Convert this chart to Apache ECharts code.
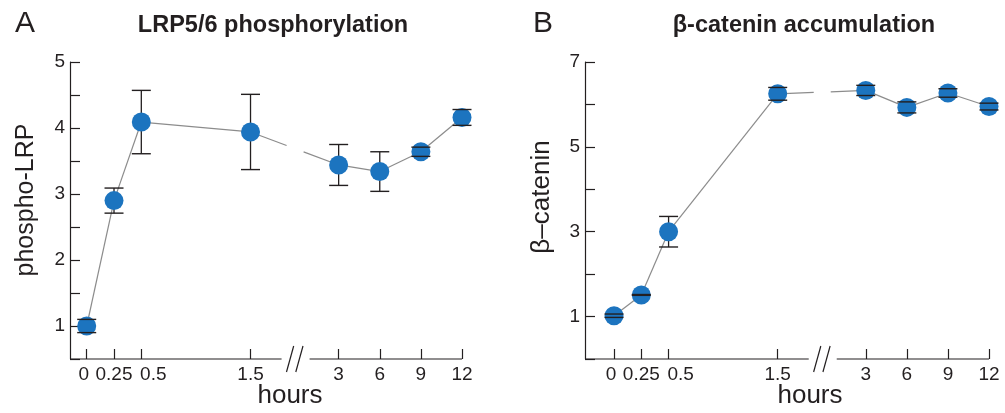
<!DOCTYPE html>
<html><head><meta charset="utf-8">
<script src="https://cdn.jsdelivr.net/npm/echarts@6/dist/echarts.min.js"></script>
<style>html,body{margin:0;padding:0;background:#fff}#c{width:1005px;height:413px}</style>
</head><body><div id="c"></div>
<script>
// ---- data ----
const hourLabels = ['0', '0.25', '0.5', '1.5', '3', '6', '9', '12'];
const hours = [0, 0.25, 0.5, 1.5, 3, 6, 9, 12];
const lrpMean = [1.00, 2.90, 4.09, 3.94, 3.44, 3.34, 3.64, 4.16];
const lrpErr  = [0.10, 0.19, 0.48, 0.57, 0.31, 0.30, 0.07, 0.12];
const catMean = [1.02, 1.51, 3.00, 6.25, 6.33, 5.93, 6.27, 5.95];
const catErr  = [0.04, 0.01, 0.36, 0.15, 0.12, 0.13, 0.10, 0.08];
const lrpYLabels = [1, 2, 3, 4, 5];
const catYLabels = [1, 3, 5, 7];

// ---- broken time axis: linear to 1.5 h, compressed after the break ----
const SEG2_START = 2.307, SEG2_SCALE = 0.1255;
function pos(h) { return h <= 1.5 ? h : SEG2_START + (h - 3) * SEG2_SCALE; }
const xTickPos = hours.map(pos);
const X_MAX = pos(12);
const BREAK_X = (pos(1.5) + pos(3)) / 2;

const INK = '#231f20';
const BLUE = '#1c74bf';
const FONT = '"Liberation Sans", Arial, Helvetica, sans-serif';

const panels = [
  { xMin: -0.153, yMin: 0.5, yMax: 5, yInt: 0.5, yLabels: lrpYLabels, mean: lrpMean, err: lrpErr,
    grid: { left: 70, top: 62, width: 392, height: 297 } },
  { xMin: -0.266, yMin: 0, yMax: 7, yInt: 1, yLabels: catYLabels, mean: catMean, err: catErr,
    grid: { left: 585, top: 62, width: 404, height: 297 } }
];

const grids = [], xAxes = [], yAxes = [], series = [];

panels.forEach((p, gi) => {
  grids.push(p.grid);
  xAxes.push({
    gridIndex: gi, type: 'value', min: p.xMin, max: X_MAX,
    axisLine: { show: false, onZero: false }, splitLine: { show: false },
    axisTick: { show: true, inside: true, length: 10, customValues: xTickPos,
      lineStyle: { color: INK, width: 1.2 } },
    axisLabel: { customValues: xTickPos, margin: 6, fontSize: 19, color: INK, fontFamily: FONT,
      rich: { sh: { fontSize: 19, color: INK, fontFamily: FONT, padding: [0, 0, 0, 24] },
              sl: { fontSize: 19, color: INK, fontFamily: FONT, padding: [0, 6, 0, 0] } },
      formatter: v => {
        const i = xTickPos.findIndex(q => Math.abs(q - v) < 1e-6);
        if (i < 0) return '';
        if (hourLabels[i] === '0.5') return '{sh|' + hourLabels[i] + '}';
        if (hourLabels[i] === '0') return '{sl|' + hourLabels[i] + '}';
        return hourLabels[i];
      } }
  });
  yAxes.push({
    gridIndex: gi, type: 'value', min: p.yMin, max: p.yMax, interval: p.yInt,
    axisLine: { show: true, onZero: false, lineStyle: { color: INK, width: 1.2 } },
    axisTick: { show: true, inside: true, length: 10, lineStyle: { color: INK, width: 1.2 } },
    splitLine: { show: false },
    axisLabel: { margin: 5, fontSize: 19, color: INK, fontFamily: FONT,
      formatter: v => p.yLabels.some(t => Math.abs(t - v) < 1e-6) ? String(Math.round(v)) : '' }
  });

  const pts = hours.map((h, i) => [pos(h), p.mean[i], p.err[i]]);
  const segs = [];
  for (let i = 0; i < hours.length - 1; i++) segs.push([pos(hours[i]), p.mean[i], pos(hours[i + 1]), p.mean[i + 1]]);

  // broken x axis line with "//" marker
  series.push({
    type: 'custom', xAxisIndex: gi, yAxisIndex: gi, z: 1, silent: true,
    data: [[0]],
    renderItem: (params, api) => {
      const a = api.coord([p.xMin, p.yMin]), b = api.coord([X_MAX, p.yMin]);
      const c = api.coord([BREAK_X, p.yMin]);
      const st = { stroke: INK, lineWidth: 1.2 };
      const y = a[1];
      const slash = cx => ({ type: 'line', shape: { x1: cx - 3.6, y1: y + 13, x2: cx + 3.6, y2: y - 13 }, style: st });
      return { type: 'group', children: [
        { type: 'line', shape: { x1: a[0], y1: y, x2: c[0] - 13, y2: y }, style: st },
        { type: 'line', shape: { x1: c[0] + 15, y1: y, x2: b[0], y2: y }, style: st },
        slash(c[0] - 4.5), slash(c[0] + 4.8)
      ] };
    }
  });

  // connecting line, interrupted at the break
  series.push({
    type: 'custom', xAxisIndex: gi, yAxisIndex: gi, z: 2, silent: true,
    data: segs,
    renderItem: (params, api) => {
      const p1 = api.coord([api.value(0), api.value(1)]);
      const p2 = api.coord([api.value(2), api.value(3)]);
      const bx = api.coord([BREAK_X, p.yMin])[0];
      const st = { stroke: '#8c8c8c', lineWidth: 1.2 };
      if (p1[0] < bx && p2[0] > bx) {
        const yAt = x => p1[1] + (p2[1] - p1[1]) * (x - p1[0]) / (p2[0] - p1[0]);
        const g1 = bx - 8, g2 = bx + 9;
        return { type: 'group', children: [
          { type: 'line', shape: { x1: p1[0], y1: p1[1], x2: g1, y2: yAt(g1) }, style: st },
          { type: 'line', shape: { x1: g2, y1: yAt(g2), x2: p2[0], y2: p2[1] }, style: st }
        ] };
      }
      return { type: 'line', shape: { x1: p1[0], y1: p1[1], x2: p2[0], y2: p2[1] }, style: st };
    }
  });

  // error bar stems
  series.push({
    type: 'custom', xAxisIndex: gi, yAxisIndex: gi, z: 3, silent: true,
    data: pts,
    renderItem: (params, api) => {
      const x = api.value(0), m = api.value(1), e = api.value(2);
      const a = api.coord([x, m + e]), b = api.coord([x, m - e]);
      return { type: 'line', shape: { x1: a[0], y1: a[1], x2: b[0], y2: b[1] }, style: { stroke: INK, lineWidth: 1.3 } };
    }
  });

  // markers
  series.push({
    type: 'scatter', xAxisIndex: gi, yAxisIndex: gi, z: 4, silent: true,
    symbol: 'circle', symbolSize: 19, itemStyle: { color: BLUE, opacity: 1 },
    data: pts.map(d => [d[0], d[1]])
  });

  // error bar caps
  series.push({
    type: 'custom', xAxisIndex: gi, yAxisIndex: gi, z: 5, silent: true,
    data: pts,
    renderItem: (params, api) => {
      const x = api.value(0), m = api.value(1), e = api.value(2);
      const a = api.coord([x, m + e]), b = api.coord([x, m - e]);
      const st = { stroke: INK, lineWidth: 1.4 };
      const w = 9.5;
      return { type: 'group', children: [
        { type: 'line', shape: { x1: a[0] - w, y1: a[1], x2: a[0] + w, y2: a[1] }, style: st },
        { type: 'line', shape: { x1: b[0] - w, y1: b[1], x2: b[0] + w, y2: b[1] }, style: st }
      ] };
    }
  });
});

function txt(text, x, y, size, opts) {
  opts = opts || {};
  return { type: 'text', x: x, y: y, rotation: opts.rot || 0, silent: true,
    style: { text: text, fill: INK, fontSize: size, fontWeight: opts.bold ? 'bold' : 'normal', fontFamily: FONT,
      textAlign: 'center', textVerticalAlign: 'middle', align: 'center', verticalAlign: 'middle' } };
}

const chart = echarts.init(document.getElementById('c'), null, { renderer: 'canvas' });
chart.setOption({
  animation: false,
  backgroundColor: '#ffffff',
  grid: grids, xAxis: xAxes, yAxis: yAxes, series: series,
  graphic: [
    txt('A', 25, 24, 30),
    txt('B', 543, 24, 30),
    txt('LRP5/6 phosphorylation', 273, 26, 23.5, { bold: true }),
    txt('β-catenin accumulation', 804, 26, 23.5, { bold: true }),
    txt('hours', 290, 396, 26),
    txt('hours', 810, 396, 26),
    txt('phospho-LRP', 26, 200, 25, { rot: Math.PI / 2 }),
    txt('β–catenin', 542, 197, 26, { rot: Math.PI / 2 })
  ]
});
</script></body></html>
